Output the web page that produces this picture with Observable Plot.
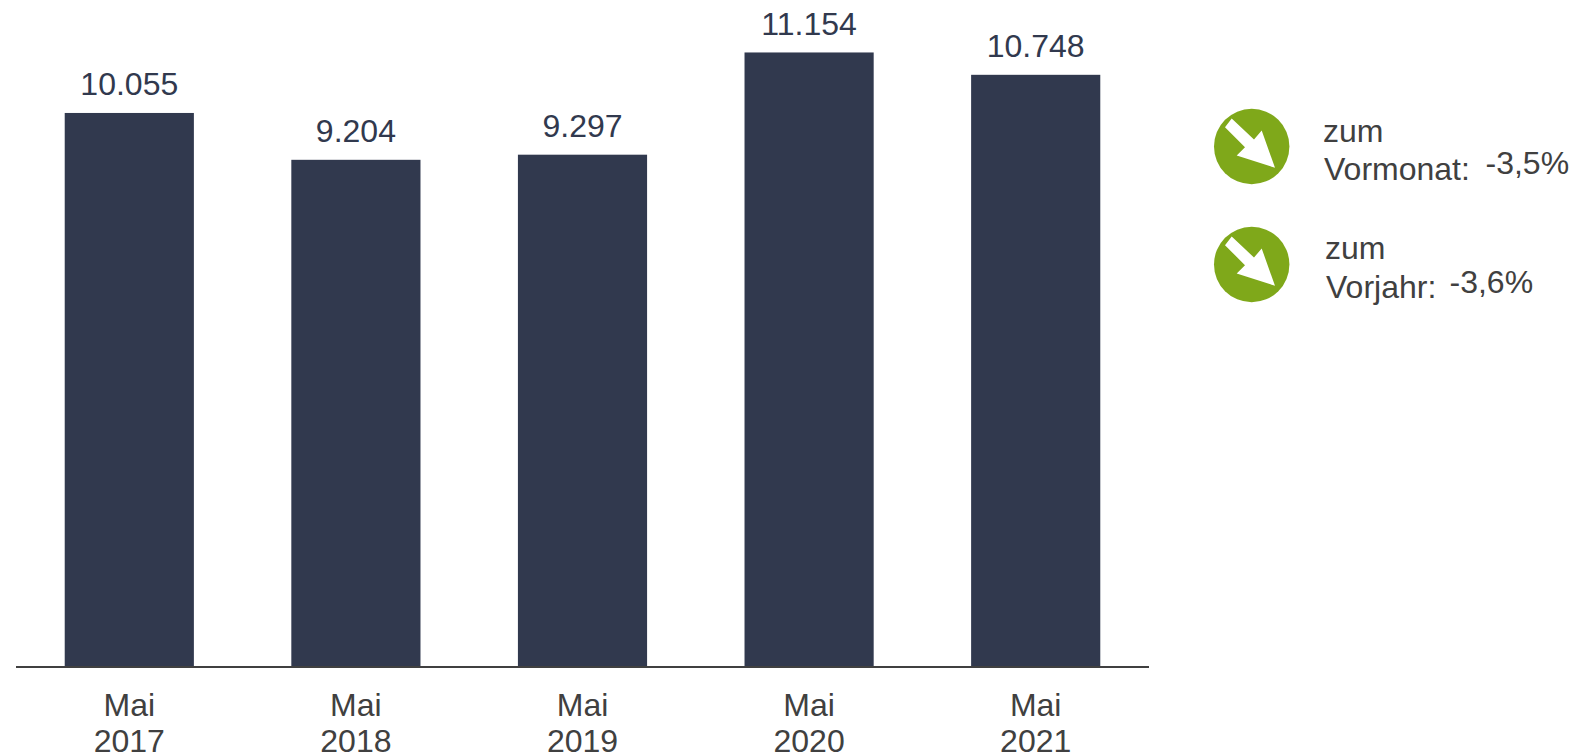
<!DOCTYPE html>
<html>
<head>
<meta charset="utf-8">
<style>
  html, body { margin: 0; padding: 0; background: #fff; }
  #chart { display: flex; width: 1574px; height: 756px; overflow: hidden; }
  svg { display: block; flex: none; }
</style>
<script src="https://cdn.jsdelivr.net/npm/d3@7"></script>
<script src="https://cdn.jsdelivr.net/npm/@observablehq/plot@0.6"></script>
</head>
<body>
<div id="chart"></div>
<script>
const categories = ["Mai\n2017", "Mai\n2018", "Mai\n2019", "Mai\n2020", "Mai\n2021"];
const values = [10055, 9204, 9297, 11154, 10748];
const valueLabels = ["10.055", "9.204", "9.297", "11.154", "10.748"];

const legendLead = ["zum", "zum"];
const legendName = ["Vormonat:", "Vorjahr:"];
const legendChange = ["-3,5%", "-3,6%"];

const bars = categories.map((c, i) => ({category: c, value: values[i], label: valueLabels[i]}));

const navy = "#31394e";
const grey = "#404040";
const green = "#7fa81a";
const font = "'Liberation Sans', Arial, sans-serif";

// Down-right arrow glyph, relative to a badge of radius 37.7
const arrowOutline = [[-20,-28],[2.3,-7],[10,-16],[23.3,21.3],[-15,9],[-6.7,0.7],[-26.7,-19.3]];
const arrowSymbol = {
  draw(ctx, size) {
    const k = Math.sqrt(size / Math.PI) / 37.7;
    arrowOutline.forEach(([px, py], i) => i ? ctx.lineTo(px * k, py * k) : ctx.moveTo(px * k, py * k));
    ctx.closePath();
  }
};

const badges = [{x: 1251.2, y: 146}, {x: 1251.2, y: 264}];
const leadAt = [{x: 1322.5, y: 141}, {x: 1324.5, y: 258}];
const nameAt = [{x: 1323.5, y: 179.5}, {x: 1325.5, y: 297}];
const changeAt = [{x: 1485, y: 173}, {x: 1449, y: 292.5}];

const chart = Plot.plot({
  width: 1190,
  height: 756,
  marginLeft: 16,
  marginRight: 41,
  marginTop: 0,
  marginBottom: 89.5,
  style: {fontFamily: font, background: "#fff", overflow: "visible"},
  x: {domain: categories, paddingInner: 0.43, paddingOuter: 0.215, round: false, label: null, axis: null},
  y: {domain: [0, 12107], axis: null, label: null},
  marks: [
    Plot.barY(bars, {x: "category", y: "value", fill: navy}),
    Plot.ruleY([0], {stroke: grey, strokeWidth: 2}),
    Plot.text(bars, {x: "category", y: "value", text: "label", fill: navy, fontSize: 32, lineAnchor: "bottom", dy: -18, dx: -0.5}),
    Plot.axisX({domain: categories, anchor: "bottom", tickSize: 0, tickPadding: 23, fontSize: 32, lineHeight: 1.13, color: grey, label: null, dx: -0.5})
  ]
});

const legendText = (labels, at) => Plot.text(at, {
  x: "x", y: "y", text: (d, i) => labels[i],
  textAnchor: "start", lineAnchor: "bottom", fontSize: 32, fill: grey
});

const legend = Plot.plot({
  width: 384,
  height: 756,
  margin: 0,
  style: {fontFamily: font, background: "#fff", overflow: "visible"},
  x: {type: "linear", domain: [1190, 1574], range: [0, 384], axis: null, label: null},
  y: {type: "linear", domain: [0, 756], range: [0, 756], axis: null, label: null},
  marks: [
    Plot.dot(badges, {x: "x", y: "y", r: 37.7, fill: green, stroke: null}),
    Plot.dot(badges, {x: "x", y: "y", r: 37.7, symbol: arrowSymbol, fill: "#fff", stroke: null}),
    legendText(legendLead, leadAt),
    legendText(legendName, nameAt),
    legendText(legendChange, changeAt)
  ]
});

document.getElementById("chart").append(chart, legend);
</script>
</body>
</html>
